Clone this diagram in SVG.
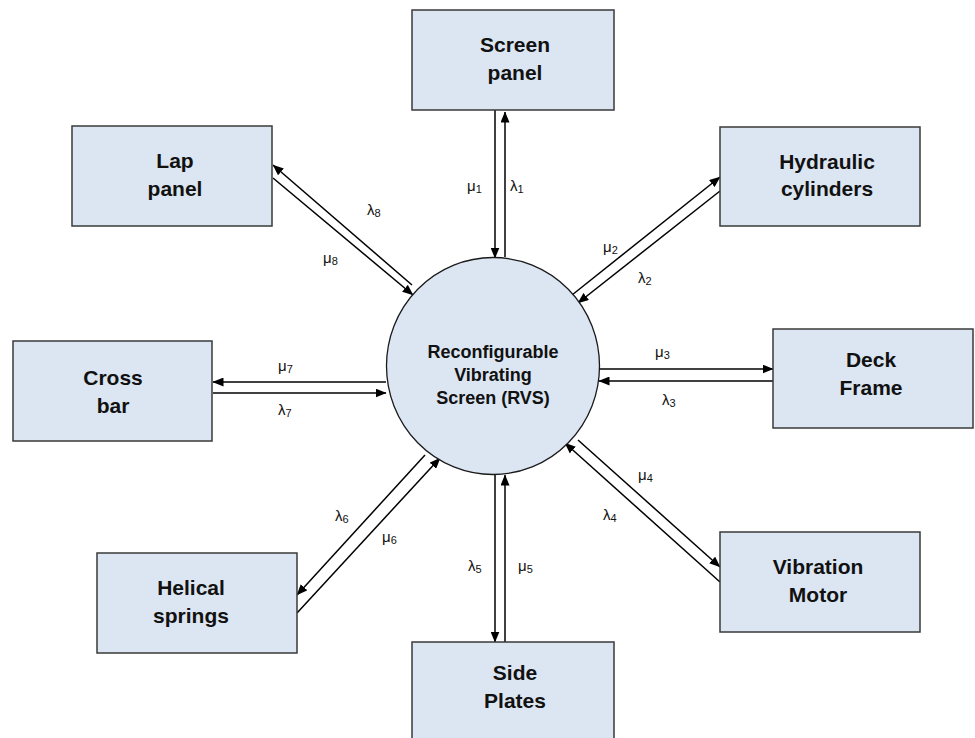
<svg xmlns="http://www.w3.org/2000/svg" width="975" height="738" viewBox="0 0 975 738">
<style>
.box{fill:#dce6f2;stroke:#3a3a3a;stroke-width:1.5}
.hub{fill:#dce6f2;stroke:#1a1a1a;stroke-width:1.3}
.t{font-family:"Liberation Sans",Arial,sans-serif;font-weight:bold;font-size:21px;fill:#111;text-anchor:middle}
.c{font-family:"Liberation Sans",Arial,sans-serif;font-weight:bold;font-size:18px;fill:#111;text-anchor:middle}
.l{font-family:"Liberation Sans",Arial,sans-serif;font-size:15px;fill:#111}
.s{font-size:11px}
.e{fill:none;stroke:#000;stroke-width:1.5;marker-end:url(#ah)}
</style>
<defs>
<marker id="ah" markerUnits="userSpaceOnUse" markerWidth="11" markerHeight="9" refX="10.5" refY="4.5" orient="auto" viewBox="0 0 11 9">
<path d="M0,0 L11,4.5 L0,9 z" fill="#000"/>
</marker>
</defs>
<rect width="975" height="738" fill="#fff"/>
<g id="connectors">
<line class="e" x1="495" y1="110" x2="495" y2="258"/>
<line class="e" x1="505" y1="257" x2="505" y2="112"/>
<line class="e" x1="572" y1="295" x2="720" y2="177"/>
<line class="e" x1="720" y1="191" x2="578" y2="303"/>
<line class="e" x1="599" y1="369" x2="773" y2="369"/>
<line class="e" x1="773" y1="381" x2="599" y2="381"/>
<line class="e" x1="578" y1="440" x2="720" y2="567"/>
<line class="e" x1="720" y1="582" x2="565" y2="443"/>
<line class="e" x1="495" y1="475" x2="495" y2="642"/>
<line class="e" x1="505" y1="642" x2="505" y2="475"/>
<line class="e" x1="425" y1="455" x2="297" y2="595"/>
<line class="e" x1="297" y1="613" x2="440" y2="458"/>
<line class="e" x1="386" y1="382" x2="213" y2="382"/>
<line class="e" x1="213" y1="393" x2="386" y2="393"/>
<line class="e" x1="412" y1="285" x2="273" y2="165"/>
<line class="e" x1="273" y1="178" x2="413" y2="295"/>
<text class="l" x="467" y="191">μ<tspan class="s" dy="2">1</tspan></text>
<text class="l" x="510" y="191">λ<tspan class="s" dy="2">1</tspan></text>
<text class="l" x="603" y="252">μ<tspan class="s" dy="2">2</tspan></text>
<text class="l" x="638" y="283">λ<tspan class="s" dy="2">2</tspan></text>
<text class="l" x="655" y="357">μ<tspan class="s" dy="2">3</tspan></text>
<text class="l" x="662" y="405">λ<tspan class="s" dy="2">3</tspan></text>
<text class="l" x="638" y="480">μ<tspan class="s" dy="2">4</tspan></text>
<text class="l" x="603" y="520">λ<tspan class="s" dy="2">4</tspan></text>
<text class="l" x="468" y="571">λ<tspan class="s" dy="2">5</tspan></text>
<text class="l" x="518" y="571">μ<tspan class="s" dy="2">5</tspan></text>
<text class="l" x="335" y="521">λ<tspan class="s" dy="2">6</tspan></text>
<text class="l" x="382" y="542">μ<tspan class="s" dy="2">6</tspan></text>
<text class="l" x="278" y="371">μ<tspan class="s" dy="2">7</tspan></text>
<text class="l" x="278" y="415">λ<tspan class="s" dy="2">7</tspan></text>
<text class="l" x="367" y="215">λ<tspan class="s" dy="2">8</tspan></text>
<text class="l" x="323" y="263">μ<tspan class="s" dy="2">8</tspan></text>
</g>
<g id="rvs">
<ellipse class="hub" cx="493" cy="366" rx="106.5" ry="108.5"/>
<text class="c" x="493" y="358">Reconfigurable</text>
<text class="c" x="493" y="381">Vibrating</text>
<text class="c" x="493" y="404">Screen (RVS)</text>
</g>
<g id="screen-panel">
<rect class="box" x="412" y="10" width="202" height="100"/>
<text class="t" x="515" y="52">Screen</text>
<text class="t" x="515" y="80">panel</text>
</g>
<g id="hydraulic-cylinders">
<rect class="box" x="720" y="127" width="200" height="99"/>
<text class="t" x="827" y="169">Hydraulic</text>
<text class="t" x="827" y="196">cylinders</text>
</g>
<g id="deck-frame">
<rect class="box" x="773" y="329" width="200" height="99"/>
<text class="t" x="871" y="367">Deck</text>
<text class="t" x="871" y="395">Frame</text>
</g>
<g id="vibration-motor">
<rect class="box" x="720" y="532" width="200" height="100"/>
<text class="t" x="818" y="574">Vibration</text>
<text class="t" x="818" y="602">Motor</text>
</g>
<g id="side-plates">
<rect class="box" x="412" y="642" width="202" height="102"/>
<text class="t" x="515" y="680">Side</text>
<text class="t" x="515" y="708">Plates</text>
</g>
<g id="helical-springs">
<rect class="box" x="97" y="553" width="200" height="100"/>
<text class="t" x="191" y="595">Helical</text>
<text class="t" x="191" y="623">springs</text>
</g>
<g id="cross-bar">
<rect class="box" x="13" y="341" width="199" height="100"/>
<text class="t" x="113" y="385">Cross</text>
<text class="t" x="113" y="413">bar</text>
</g>
<g id="lap-panel">
<rect class="box" x="72" y="126" width="200" height="100"/>
<text class="t" x="175" y="168">Lap</text>
<text class="t" x="175" y="196">panel</text>
</g>
</svg>
